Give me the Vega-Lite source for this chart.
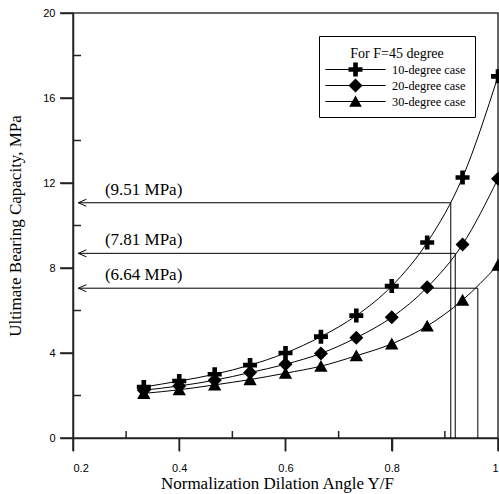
{
  "$schema": "https://vega.github.io/schema/vega-lite/v6.json",
  "width": 425,
  "height": 425,
  "autosize": {"type": "none"},
  "padding": {"left": 73, "top": 13, "right": 1, "bottom": 56},
  "background": "white",
  "config": {
    "view": {"stroke": "#333", "strokeWidth": 1.5},
    "axis": {
      "gridOpacity": 0,
      "labelFont": "Liberation Sans",
      "labelFontSize": 11,
      "labelColor": "black",
      "titleFont": "Liberation Serif",
      "titleFontSize": 17,
      "titleFontWeight": "normal",
      "titleColor": "black"
    }
  },
  "datasets": {
    "curves": [
      {"r": 0.3333, "series": "10-degree case", "q": 2.40},
      {"r": 0.4, "series": "10-degree case", "q": 2.68},
      {"r": 0.4667, "series": "10-degree case", "q": 3.00},
      {"r": 0.5333, "series": "10-degree case", "q": 3.43},
      {"r": 0.6, "series": "10-degree case", "q": 4.00},
      {"r": 0.6667, "series": "10-degree case", "q": 4.77},
      {"r": 0.7333, "series": "10-degree case", "q": 5.76},
      {"r": 0.8, "series": "10-degree case", "q": 7.15},
      {"r": 0.8667, "series": "10-degree case", "q": 9.20},
      {"r": 0.9333, "series": "10-degree case", "q": 12.26},
      {"r": 1.0, "series": "10-degree case", "q": 17.02},
      {"r": 0.3333, "series": "20-degree case", "q": 2.25},
      {"r": 0.4, "series": "20-degree case", "q": 2.45},
      {"r": 0.4667, "series": "20-degree case", "q": 2.72},
      {"r": 0.5333, "series": "20-degree case", "q": 3.08},
      {"r": 0.6, "series": "20-degree case", "q": 3.47},
      {"r": 0.6667, "series": "20-degree case", "q": 3.98},
      {"r": 0.7333, "series": "20-degree case", "q": 4.72},
      {"r": 0.8, "series": "20-degree case", "q": 5.68},
      {"r": 0.8667, "series": "20-degree case", "q": 7.09},
      {"r": 0.9333, "series": "20-degree case", "q": 9.11},
      {"r": 1.0, "series": "20-degree case", "q": 12.2},
      {"r": 0.3333, "series": "30-degree case", "q": 2.10},
      {"r": 0.4, "series": "30-degree case", "q": 2.27},
      {"r": 0.4667, "series": "30-degree case", "q": 2.50},
      {"r": 0.5333, "series": "30-degree case", "q": 2.75},
      {"r": 0.6, "series": "30-degree case", "q": 3.05},
      {"r": 0.6667, "series": "30-degree case", "q": 3.38},
      {"r": 0.7333, "series": "30-degree case", "q": 3.87},
      {"r": 0.8, "series": "30-degree case", "q": 4.43},
      {"r": 0.8667, "series": "30-degree case", "q": 5.27},
      {"r": 0.9333, "series": "30-degree case", "q": 6.49},
      {"r": 1.0, "series": "30-degree case", "q": 8.14}
    ],
    "arrows": [
      {"xv": 0.9111, "level": 11.07, "label": "(9.51 MPa)"},
      {"xv": 0.9195, "level": 8.69, "label": "(7.81 MPa)"},
      {"xv": 0.962, "level": 7.05, "label": "(6.64 MPa)"}
    ],
    "xmajor": [{"v": 0.2}, {"v": 0.4}, {"v": 0.6}, {"v": 0.8}, {"v": 1.0}],
    "xminor": [{"v": 0.3}, {"v": 0.5}, {"v": 0.7}, {"v": 0.9}],
    "ymajor": [{"v": 0}, {"v": 4}, {"v": 8}, {"v": 12}, {"v": 16}, {"v": 20}],
    "yminor": [{"v": 2}, {"v": 6}, {"v": 10}, {"v": 14}, {"v": 18}]
  },
  "resolve": {
    "scale": {"shape": "independent"}
  },
  "layer": [
    {
      "data": {"name": "curves"},
      "mark": {"type": "line", "interpolate": "monotone", "color": "black", "strokeWidth": 1},
      "encoding": {
        "x": {
          "field": "r", "type": "quantitative",
          "scale": {"domain": [0.2, 1], "nice": false, "zero": false},
          "axis": {"orient": "bottom", "values": [0.2, 0.4, 0.6, 0.8, 1], "format": "~g", "tickSize": 13, "tickColor": "#222", "tickWidth": 1.5, "domainColor": "#222", "domainWidth": 1.5, "labelPadding": 11, "title": "Normalization Dilation Angle Y/F", "titlePadding": 2, "titleX": 204}
        },
        "y": {
          "field": "q", "type": "quantitative",
          "scale": {"domain": [0, 20], "nice": false},
          "axis": {"orient": "left", "values": [0, 4, 8, 12, 16, 20], "tickSize": 13, "tickColor": "#222", "tickWidth": 1.5, "domainColor": "#222", "domainWidth": 1.5, "labelPadding": 5, "title": "Ultimate Bearing Capacity, MPa", "titlePadding": 18}
        },
        "detail": {"field": "series", "type": "nominal"}
      }
    },
    {
      "data": {"name": "xmajor"},
      "mark": {"type": "tick", "orient": "vertical", "size": 13, "thickness": 1.5, "color": "#222", "opacity": 1, "yOffset": 6.5},
      "encoding": {
        "x": {"field": "v", "type": "quantitative", "scale": {"domain": [0.2, 1], "nice": false, "zero": false}},
        "y": {"datum": 0, "type": "quantitative", "scale": {"domain": [0, 20], "nice": false}}
      }
    },
    {
      "data": {"name": "xminor"},
      "mark": {"type": "tick", "orient": "vertical", "size": 7, "thickness": 1.5, "color": "#222", "opacity": 1, "yOffset": -3.5},
      "encoding": {
        "x": {"field": "v", "type": "quantitative", "scale": {"domain": [0.2, 1], "nice": false, "zero": false}},
        "y": {"datum": 0, "type": "quantitative", "scale": {"domain": [0, 20], "nice": false}}
      }
    },
    {
      "data": {"name": "ymajor"},
      "mark": {"type": "tick", "orient": "horizontal", "size": 13, "thickness": 1.5, "color": "#222", "opacity": 1, "xOffset": -6.5},
      "encoding": {
        "x": {"datum": 0.2, "type": "quantitative", "scale": {"domain": [0.2, 1], "nice": false, "zero": false}},
        "y": {"field": "v", "type": "quantitative", "scale": {"domain": [0, 20], "nice": false}}
      }
    },
    {
      "data": {"name": "yminor"},
      "mark": {"type": "tick", "orient": "horizontal", "size": 8, "thickness": 1.5, "color": "#222", "opacity": 1, "xOffset": 4},
      "encoding": {
        "x": {"datum": 0.2, "type": "quantitative", "scale": {"domain": [0.2, 1], "nice": false, "zero": false}},
        "y": {"field": "v", "type": "quantitative", "scale": {"domain": [0, 20], "nice": false}}
      }
    },
    {
      "data": {"name": "arrows"},
      "mark": {"type": "rule", "color": "black", "strokeWidth": 1},
      "encoding": {
        "x": {"field": "xv", "type": "quantitative", "scale": {"domain": [0.2, 1], "nice": false, "zero": false}},
        "x2": {"datum": 0.21},
        "y": {"field": "level", "type": "quantitative", "scale": {"domain": [0, 20], "nice": false}}
      }
    },
    {
      "data": {"name": "arrows"},
      "mark": {"type": "rule", "color": "black", "strokeWidth": 1},
      "encoding": {
        "x": {"field": "xv", "type": "quantitative", "scale": {"domain": [0.2, 1], "nice": false, "zero": false}},
        "y": {"field": "level", "type": "quantitative", "scale": {"domain": [0, 20], "nice": false}},
        "y2": {"datum": 0}
      }
    },
    {
      "data": {"name": "arrows"},
      "mark": {"type": "point", "shape": "M2.3,-1L0,0L2.3,1", "size": 49, "filled": false, "color": "black", "strokeWidth": 1, "opacity": 1},
      "encoding": {
        "x": {"datum": 0.21, "type": "quantitative", "scale": {"domain": [0.2, 1], "nice": false, "zero": false}},
        "y": {"field": "level", "type": "quantitative", "scale": {"domain": [0, 20], "nice": false}}
      }
    },
    {
      "data": {"name": "arrows"},
      "mark": {"type": "text", "align": "left", "baseline": "bottom", "dy": -4, "font": "Liberation Serif", "fontSize": 17, "color": "black"},
      "encoding": {
        "x": {"datum": 0.26, "type": "quantitative", "scale": {"domain": [0.2, 1], "nice": false, "zero": false}},
        "y": {"field": "level", "type": "quantitative", "scale": {"domain": [0, 20], "nice": false}},
        "text": {"field": "label", "type": "nominal"}
      }
    },
    {
      "data": {"name": "curves"},
      "mark": {"type": "point", "filled": true, "color": "black", "opacity": 1, "size": 196},
      "encoding": {
        "x": {"field": "r", "type": "quantitative", "scale": {"domain": [0.2, 1], "nice": false, "zero": false}},
        "y": {"field": "q", "type": "quantitative", "scale": {"domain": [0, 20], "nice": false}},
        "shape": {
          "field": "series", "type": "nominal",
          "scale": {
            "domain": ["10-degree case", "20-degree case", "30-degree case"],
            "range": [
              "M-0.33,-1H0.33V-0.33H1V0.33H0.33V1H-0.33V0.33H-1V-0.33H-0.33Z",
              "M0,-1L1,0L0,1L-1,0Z",
              "M0,-0.9L0.95,0.8L-0.95,0.8Z"
            ]
          },
          "legend": null
        }
      }
    },
    {
      "data": {"name": "curves"},
      "mark": {"type": "point", "filled": true, "color": "black", "opacity": 0, "size": 196},
      "encoding": {
        "x": {"field": "r", "type": "quantitative", "scale": {"domain": [0.2, 1], "nice": false, "zero": false}},
        "y": {"field": "q", "type": "quantitative", "scale": {"domain": [0, 20], "nice": false}},
        "shape": {
          "field": "series", "type": "nominal",
          "scale": {
            "domain": ["10-degree case", "20-degree case", "30-degree case"],
            "range": [
              "M-4.3,-0.07H4.3V0.07H-4.3ZM-0.33,-1H0.33V-0.33H1V0.33H0.33V1H-0.33V0.33H-1V-0.33H-0.33Z",
              "M-4.3,-0.07H4.3V0.07H-4.3ZM0,-1L1,0L0,1L-1,0Z",
              "M-4.3,-0.07H4.3V0.07H-4.3ZM0,-0.85L0.9,0.75L-0.9,0.75Z"
            ]
          },
          "legend": {
            "title": "For F=45 degree",
            "orient": "none",
            "legendX": 246,
            "legendY": 23,
            "direction": "vertical",
            "titleFont": "Liberation Serif",
            "titleFontSize": 14,
            "titleFontWeight": "normal",
            "titleColor": "black",
            "titleAnchor": "middle",
            "titleBaseline": "line-top",
            "titleLineHeight": 18,
            "titlePadding": 3.5,
            "titleLimit": 300,
            "labelFont": "Liberation Serif",
            "labelFontSize": 12.3,
            "labelColor": "black",
            "labelLimit": 300,
            "symbolSize": 196,
            "symbolOffset": 20.5,
            "labelOffset": 29.5,
            "symbolFillColor": "black",
            "symbolStrokeColor": "black",
            "symbolStrokeWidth": 0,
            "symbolOpacity": 1,
            "strokeColor": "black",
            "fillColor": "white",
            "padding": 9,
            "rowPadding": 2
          }
        }
      }
    }
  ]
}
